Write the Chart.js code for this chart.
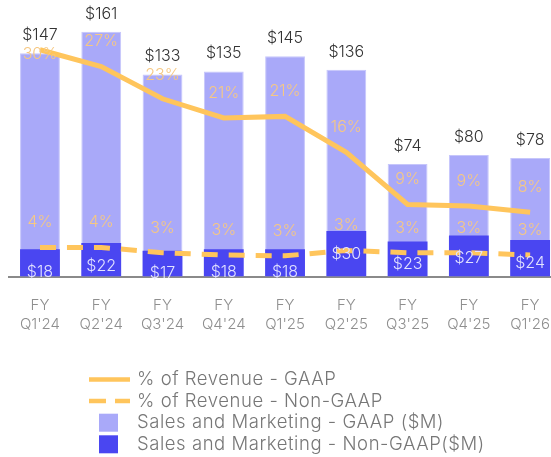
<!DOCTYPE html>
<html><head><meta charset="utf-8">
<script src="https://cdn.jsdelivr.net/npm/chart.js@4.4.1/dist/chart.umd.min.js"></script>
<style>
html,body{margin:0;padding:0;background:#fff;overflow:hidden;width:551px;height:457px}
#wrap{width:551px;height:457px;overflow:hidden;position:relative}
canvas{display:block}
</style></head><body>
<div id="wrap"><canvas id="c" width="570" height="457"></canvas></div>
<script>
const categories = [["FY","Q1'24"],["FY","Q2'24"],["FY","Q3'24"],["FY","Q4'24"],["FY","Q1'25"],["FY","Q2'25"],["FY","Q3'25"],["FY","Q4'25"],["FY","Q1'26"]];
const gaapSpend = [147,161,133,135,145,136,74,80,78];
const nonGaapSpend = [18,22,17,18,18,30,23,27,24];
const gaapPct = [29.6,27.4,23.2,20.7,20.9,16.2,9.4,9.2,8.4];
const nonGaapPct = [3.8,3.8,3.1,2.8,2.7,3.4,3.1,3.1,2.8];
const seriesNames = ["% of Revenue - GAAP","% of Revenue - Non-GAAP","Sales and Marketing - GAAP ($M)","Sales and Marketing - Non-GAAP($M)"];

const FONT = "Inter, 'DejaVu Sans', sans-serif";
const ORANGE = '#FFC55C';
const LIGHT = '#A9A9F9';
const DARK = '#4A46F1';

const labelPlugin = {
  id: 'valueLabels',
  afterDatasetsDraw(chart) {
    const ctx = chart.ctx;
    const metaLineG = chart.getDatasetMeta(0);
    const metaLineN = chart.getDatasetMeta(1);
    const metaBarG = chart.getDatasetMeta(2);
    const metaBarN = chart.getDatasetMeta(3);
    ctx.save();
    ctx.textAlign = 'center';
    ctx.textBaseline = 'middle';
    ctx.font = "300 16px " + FONT;
    metaBarG.data.forEach((bar, i) => {
      ctx.fillStyle = '#333333';
      ctx.fillText('$' + gaapSpend[i], bar.x, bar.y - 18);
    });
    metaBarN.data.forEach((bar, i) => {
      ctx.fillStyle = '#E2E2FF';
      ctx.fillText('$' + nonGaapSpend[i], bar.x, bar.y + 23);
    });
    ctx.fillStyle = '#F6C883';
    metaLineG.data.forEach((pt, i) => {
      const top = metaBarG.data[i].y;
      ctx.fillText(Math.round(gaapPct[i]) + '%', pt.x, Math.max(pt.y - 25, top + 1));
    });
    metaLineN.data.forEach((pt, i) => {
      ctx.fillText(Math.round(nonGaapPct[i]) + '%', pt.x, pt.y - 25);
    });
    ctx.restore();
  },
  afterDraw(chart) {
    const ctx = chart.ctx;
    ctx.save();
    ctx.font = "300 18.5px " + FONT;
    try { ctx.letterSpacing = '0.55px'; } catch (e) {}
    ctx.textBaseline = 'middle';
    ctx.textAlign = 'left';
    chart.data.datasets.forEach((ds, i) => {
      const y = 379.5 + i * 21.6;
      if (ds.type === 'line') {
        ctx.strokeStyle = ds.borderColor;
        ctx.lineWidth = 4.5;
        ctx.setLineDash(ds.borderDash ? [17, 9] : []);
        ctx.beginPath();
        ctx.moveTo(89, y);
        ctx.lineTo(130, y);
        ctx.stroke();
        ctx.setLineDash([]);
      } else {
        ctx.fillStyle = ds.backgroundColor;
        ctx.fillRect(99, y - 9, 19, 18);
      }
      ctx.fillStyle = '#777777';
      ctx.fillText(ds.label, 137, y);
    });
    ctx.restore();
  }
};

new Chart(document.getElementById('c'), {
  data: {
    labels: categories,
    datasets: [
      { type: 'line', label: seriesNames[0], data: gaapPct, yAxisID: 'y1', borderColor: ORANGE, borderWidth: 5, pointRadius: 0, tension: 0, order: 0 },
      { type: 'line', label: seriesNames[1], data: nonGaapPct, yAxisID: 'y1', borderColor: ORANGE, borderWidth: 5, borderDash: [16, 11], pointRadius: 0, tension: 0, order: 0 },
      { type: 'bar', label: seriesNames[2], data: gaapSpend, yAxisID: 'y', backgroundColor: LIGHT, borderColor: '#C6C6FB', borderWidth: 1, grouped: false, barPercentage: 0.65, categoryPercentage: 1, order: 2 },
      { type: 'bar', label: seriesNames[3], data: nonGaapSpend, yAxisID: 'y', backgroundColor: DARK, borderWidth: 0, grouped: false, barPercentage: 0.65, categoryPercentage: 1, order: 1 }
    ]
  },
  options: {
    responsive: false,
    animation: false,
    layout: { padding: { top: 3, left: 8, right: 0, bottom: 103 } },
    plugins: { legend: { display: false }, tooltip: { enabled: false } },
    scales: {
      x: {
        grid: { display: false, drawTicks: false },
        border: { display: true, color: '#8a8a8a', width: 2 },
        ticks: { color: '#8f8f8f', padding: 20, font: { family: FONT, size: 15, weight: 300, lineHeight: 1.25 }, maxRotation: 0, autoSkip: false }
      },
      y: { display: false, min: 0, max: 180 },
      y1: { display: false, min: 0, max: 35.7, position: 'right' }
    }
  },
  plugins: [labelPlugin]
});
</script>
</body></html>
